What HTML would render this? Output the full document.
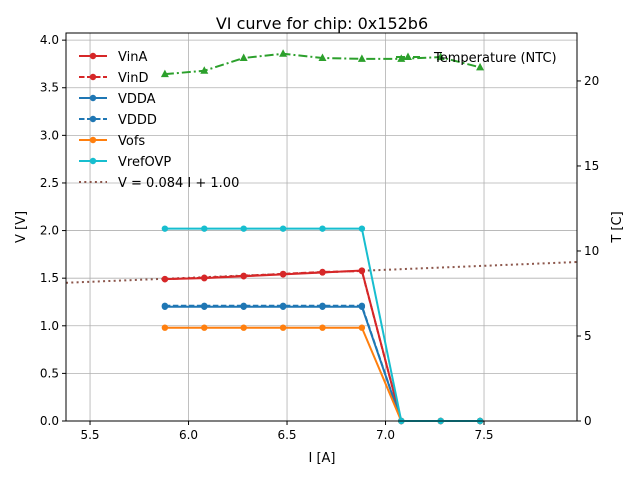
<!DOCTYPE html>
<html><head><meta charset="utf-8"><style>
body{margin:0;background:#fff;font-family:"Liberation Sans","DejaVu Sans",sans-serif}
svg text{font-family:"DejaVu Sans","Liberation Sans",sans-serif;fill:#000}
</style></head><body>
<svg id="chart" width="640" height="480" xmlns="http://www.w3.org/2000/svg">
<rect width="640" height="480" fill="#fff"/>
<g id="grid"></g><g id="series"></g><g id="axes"></g><g id="legend"></g>
</svg>
<script>
const xVals=[5.88,6.08,6.28,6.48,6.68,6.88,7.08,7.28,7.48];
const vinA=[1.49,1.50,1.52,1.54,1.56,1.58,0,0,0];
const vinD=[1.49,1.505,1.525,1.545,1.565,1.575,0,0,0];
const vdda=[1.20,1.20,1.20,1.20,1.20,1.20,0,0,0];
const vddd=[1.21,1.21,1.21,1.21,1.21,1.21,0,0,0];
const vofs=[0.98,0.98,0.98,0.98,0.98,0.98,0,0,0];
const vref=[2.02,2.02,2.02,2.02,2.02,2.02,0,0,0];
const temp=[20.4,20.6,21.35,21.6,21.35,21.3,21.3,21.4,20.8];
const fitSlope=0.084, fitIntercept=1.00;
const xTicks=[5.5,6.0,6.5,7.0,7.5];
const yTicks=[0,0.5,1.0,1.5,2.0,2.5,3.0,3.5,4.0];
const tTicks=[0,5,10,15,20];
const L=66,R=577,T=33,B=421;
const xMin=5.378,xMax=7.972,yMin=0,yMax=4.075,tMax=22.82;
const X=v=>L+(v-xMin)/(xMax-xMin)*(R-L);
const Y=v=>B-(v-yMin)/(yMax-yMin)*(B-T);
const YT=v=>B-v/tMax*(B-T);
const NS="http://www.w3.org/2000/svg";
function mk(tag,attrs,parent,txt){const e=document.createElementNS(NS,tag);for(const k in attrs)e.setAttribute(k,attrs[k]);if(txt!==undefined)e.textContent=txt;document.getElementById(parent).appendChild(e);return e;}
// grid
xTicks.forEach(v=>{const l=mk('line',{x1:X(v),x2:X(v),y1:T,y2:B,stroke:'#b0b0b0','stroke-width':0.8},'grid');

});
yTicks.forEach(v=>{const l=mk('line',{x1:L,x2:R,y1:Y(v),y2:Y(v),stroke:'#b0b0b0','stroke-width':0.8},'grid');

});
// fit line
const fl=mk('line',{x1:X(xMin),y1:Y(fitSlope*xMin+fitIntercept),x2:X(xMax),y2:Y(fitSlope*xMax+fitIntercept),stroke:'#8c564b','stroke-width':2,'stroke-dasharray':'2,3.3'},'series');


function series(vals,color,dash,name,yf,marker){
 const pts=vals.map((v,i)=>X(xVals[i])+','+yf(v)).join(' ');
 const p=mk('polyline',{points:pts,fill:'none',stroke:color,'stroke-width':2,'stroke-dasharray':dash},'series');
 
 
 vals.forEach((v,i)=>{const cx=X(xVals[i]),cy=yf(v);let m;
  if(marker==='tri')m=mk('polygon',{points:`${cx},${cy-4.5} ${cx-4},${cy+3} ${cx+4},${cy+3}`,fill:color},'series');
  else m=mk('circle',{cx:cx,cy:cy,r:3.2,fill:color},'series');
  
  });
}
series(vinA,'#d62728','','vina',Y);
series(vinD,'#d62728','5.5,2.5','vind',Y);
series(vdda,'#1f77b4','','vdda',Y);
series(vddd,'#1f77b4','5.5,2.5','vddd',Y);
series(vofs,'#ff7f0e','','vofs',Y);
series(vref,'#17becf','','vrefovp',Y);
series(temp,'#2ca02c','9,3,2,3','temperature',YT,'tri');
// axes frame
const fr=mk('rect',{x:L,y:T,width:R-L,height:B-T,fill:'none',stroke:'#000','stroke-width':1},'axes');


xTicks.forEach(v=>{mk('line',{x1:X(v),x2:X(v),y1:B,y2:B+4,stroke:'#000'},'axes');
 const t=mk('text',{x:X(v),y:B+18,'text-anchor':'middle','font-size':12},'axes',v.toFixed(1));
 
 });
yTicks.forEach(v=>{mk('line',{x1:L-4,x2:L,y1:Y(v),y2:Y(v),stroke:'#000'},'axes');
 const t=mk('text',{x:L-7,y:Y(v)+4,'text-anchor':'end','font-size':12},'axes',v.toFixed(1));
 
 });
tTicks.forEach(v=>{mk('line',{x1:R,x2:R+4,y1:YT(v),y2:YT(v),stroke:'#000'},'axes');
 const t=mk('text',{x:R+7,y:YT(v)+4,'font-size':12},'axes',String(v));
 
 });
// legend
const leg=[['VinA','#d62728',''],['VinD','#d62728','5.5,2.5'],['VDDA','#1f77b4',''],['VDDD','#1f77b4','5.5,2.5'],['Vofs','#ff7f0e',''],['VrefOVP','#17becf','']];
leg.forEach((e,i)=>{const y=56+i*21;
 mk('line',{x1:79,x2:107,y1:y,y2:y,stroke:e[1],'stroke-width':2,'stroke-dasharray':e[2]},'legend');
 mk('circle',{cx:93,cy:y,r:3.2,fill:e[1]},'legend');
 const t=mk('text',{x:118,y:y+5,'font-size':13},'legend',e[0]);
 
 });
mk('line',{x1:79,x2:107,y1:182,y2:182,stroke:'#8c564b','stroke-width':2,'stroke-dasharray':'2,3.3'},'legend');
const ft=mk('text',{x:118,y:187,'font-size':13},'legend','V = 0.084 I + 1.00');


mk('line',{x1:396,x2:420,y1:57,y2:57,stroke:'#2ca02c','stroke-width':2,'stroke-dasharray':'9,3,2,3'},'legend');
mk('polygon',{points:'408,52.5 404,60 412,60',fill:'#2ca02c'},'legend');
const tt=mk('text',{x:434,y:62,'font-size':13},'legend','Temperature (NTC)');


// titles
const ti=mk('text',{x:322,y:29,'text-anchor':'middle','font-size':16},'axes','VI curve for chip: 0x152b6');


const xl=mk('text',{x:322,y:462,'text-anchor':'middle','font-size':13},'axes','I [A]');


const yl=mk('text',{x:25,y:227,'text-anchor':'middle','font-size':13,transform:'rotate(-90 25 227)'},'axes','V [V]');


const tl=mk('text',{x:621,y:227,'text-anchor':'middle','font-size':13,transform:'rotate(-90 621 227)'},'axes','T [C]');


</script>
</body></html>
